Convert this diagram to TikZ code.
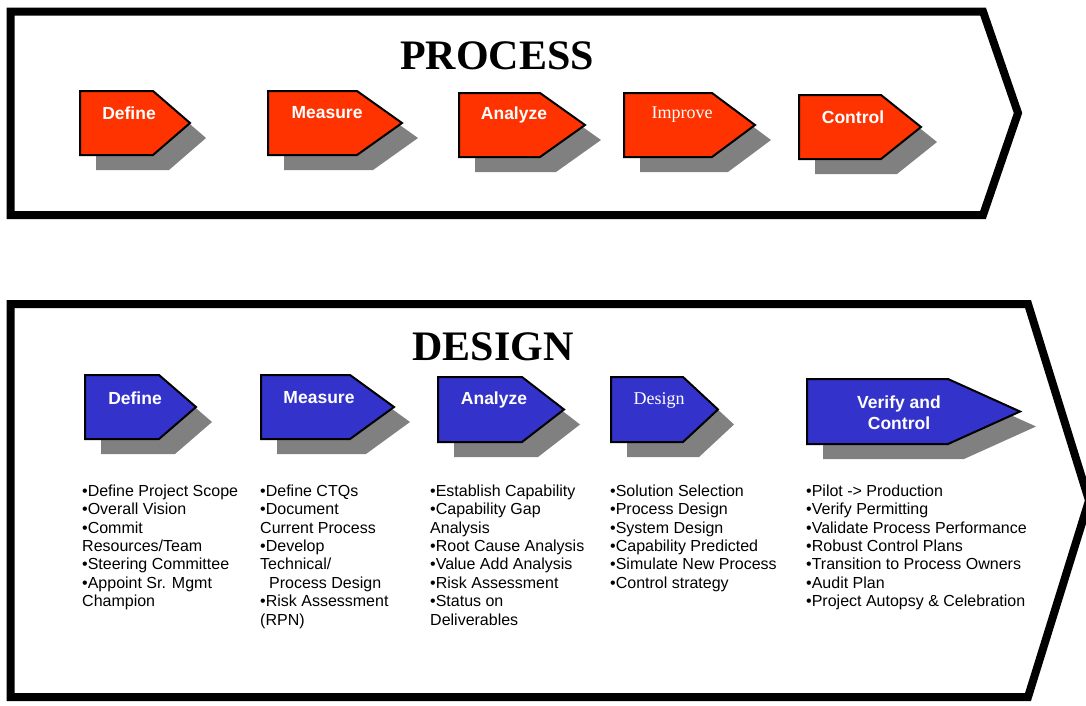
\documentclass[tikz,border=0pt]{standalone}
\usepackage{fontspec}
\setmainfont{Liberation Serif}
\setsansfont{Liberation Sans}
\definecolor{pred}{HTML}{FF3300}
\definecolor{pblue}{HTML}{3333CC}
\definecolor{shadegray}{HTML}{808080}
\tikzset{
  bigframe/.style={line width=8pt, line join=miter, draw=black},
  boxline/.style={line width=2pt, line join=miter, draw=black},
  shadowfill/.style={fill=shadegray},
  lbl/.style={text=white, font=\sffamily\bfseries\fontsize{17.5}{21}\selectfont, inner sep=0pt, align=center},
  lblserif/.style={text=white, font=\rmfamily\fontsize{18}{21}\selectfont, inner sep=0pt},
  title/.style={font=\rmfamily\bfseries\fontsize{42}{46}\selectfont, inner sep=0pt},
  bullets/.style={font=\sffamily\fontsize{16}{18.4}\selectfont, inner sep=0pt, align=left, anchor=north west}
}
% #1 left, #2 top, #3 rect right, #4 tip x, #5 bottom, #6 fill colour
\newcommand\chevbox[6]{%
  \fill[shadowfill] ({#1+16},{#2+15}) -- ({#3+16},{#2+15}) -- ({#4+16},{(#2+#5)/2+15})
     -- ({#3+16},{#5+15}) -- ({#1+16},{#5+15}) -- cycle;
  \draw[boxline, fill=#6] (#1,#2) -- (#3,#2) -- (#4,{(#2+#5)/2}) -- (#3,#5) -- (#1,#5) -- cycle;
}
\begin{document}
\begin{tikzpicture}[x=1pt,y=-1pt]
\useasboundingbox (0,0) rectangle (1086,705);
\begin{scope}
\clip (0,0) rectangle (1086,705);
% PROCESS frame
\draw[bigframe] (10.5,11.5) -- (983,11.5) -- (1018,113) -- (983,215) -- (10.5,215) -- cycle;
% DESIGN frame
\draw[bigframe] (10.5,304) -- (1028,304) -- (1089,500.5) -- (1028,697) -- (10.5,697) -- cycle;
\end{scope}

\node[title] (ptitle) at (497,56) {PROCESS};
\node[title] (dtitle) at (493,347) {DESIGN};

% process steps
\chevbox{80}{91}{153}{190}{155}{pred}
\chevbox{268}{91}{357}{402}{155}{pred}
\chevbox{459}{93}{540}{585}{157}{pred}
\chevbox{624}{93}{712}{755}{157}{pred}
\chevbox{799}{95}{881}{921}{159}{pred}
\node[lbl] (pdef) at (129,113) {Define};
\node[lbl] (pmeas) at (327,113) {Measure};
\node[lbl] (pana) at (514,115) {Analyze};
\node[lblserif] (pimp) at (682,115) {Improve};
\node[lbl] (pcon) at (853,117) {Control};

% design steps
\chevbox{85}{375}{159}{196}{439}{pblue}
\chevbox{261}{375}{350}{394}{439}{pblue}
\chevbox{438}{377}{522}{564}{442}{pblue}
\chevbox{611}{377}{683}{718}{442}{pblue}
\chevbox{807}{379}{948}{1020}{444}{pblue}
\node[lbl] (ddef) at (135,398) {Define};
\node[lbl] (dmeas) at (319,398) {Measure};
\node[lbl] (dana) at (494,400) {Analyze};
\node[lblserif] (ddes) at (659,400) {Design};
\node[lbl] (dver) at (899,412.5) {Verify and\\Control};

% bullet lists
\node[bullets] (c1) at (82,484.5) {•Define Project Scope\\•Overall Vision\\•Commit\\Resources/Team\\•Steering Committee\\•Appoint Sr. Mgmt\\Champion};
\node[bullets] (c2) at (260,484.5) {•Define CTQs\\•Document\\Current Process\\•Develop\\Technical/\\\hspace*{9pt}Process Design\\•Risk Assessment\\(RPN)};
\node[bullets] (c3) at (430,484.5) {•Establish Capability\\•Capability Gap\\Analysis\\•Root Cause Analysis\\•Value Add Analysis\\•Risk Assessment\\•Status on\\Deliverables};
\node[bullets] (c4) at (610,484.5) {•Solution Selection\\•Process Design\\•System Design\\•Capability Predicted\\•Simulate New Process\\•Control strategy};
\node[bullets] (c5) at (806,484.5) {•Pilot -> Production\\•Verify Permitting\\•Validate Process Performance\\•Robust Control Plans\\•Transition to Process Owners\\•Audit Plan\\•Project Autopsy \& Celebration};
\end{tikzpicture}
\end{document}
